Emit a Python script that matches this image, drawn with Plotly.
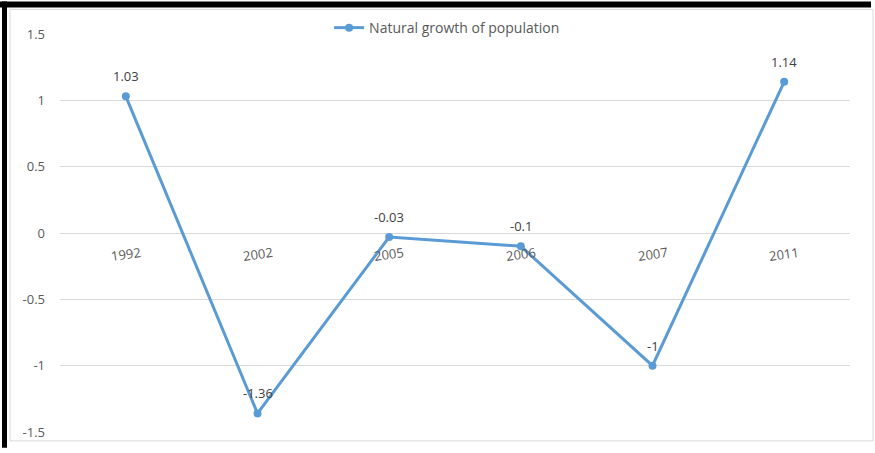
import plotly.graph_objects as go

years = ["1992", "2002", "2005", "2006", "2007", "2011"]
growth = [1.03, -1.36, -0.03, -0.1, -1.0, 1.14]
labels = ["1.03", "-1.36", "-0.03", "-0.1", "-1", "1.14"]
y_ticks = [1.5, 1, 0.5, 0, -0.5, -1, -1.5]
y_tick_text = ["1.5", "1", "0.5", "0", "-0.5", "-1", "-1.5"]

W, H = 875, 453
L, R, T, B = 60, 25, 33, 16
PW, PH = W - L - R, H - T - B

def px_x(p):
    return (p - L) / PW

def px_y(p):
    return 1 - (p - T) / PH

FONT = "Open Sans, Liberation Sans, sans-serif"

fig = go.Figure()
fig.add_trace(go.Scatter(
    x=years, y=growth, mode="lines+markers",
    name="Natural growth of population",
    line=dict(color="#5B9BD5", width=3),
    marker=dict(color="#5B9BD5", size=8),
    cliponaxis=False,
))

for i, (v, t) in enumerate(zip(growth, labels)):
    fig.add_annotation(x=i, y=v, xref="x", yref="y", text=t, showarrow=False,
                       yshift=20, font=dict(family=FONT, size=13, color="#404040"))

for i, yr in enumerate(years):
    fig.add_annotation(x=i, y=0, xref="x", yref="y", text=yr, showarrow=False,
                       yshift=-21, textangle=-8,
                       font=dict(family=FONT, size=13, color="#595959"))

shapes = [
    dict(type="rect", xref="paper", yref="paper", x0=px_x(10), x1=px_x(873), y0=px_y(446), y1=px_y(8),
         line=dict(color="#D9D9D9", width=1), fillcolor="rgba(0,0,0,0)", layer="below"),
    dict(type="rect", xref="paper", yref="paper", x0=px_x(0), x1=px_x(871), y0=px_y(6), y1=px_y(0),
         line=dict(width=0), fillcolor="black"),
    dict(type="rect", xref="paper", yref="paper", x0=px_x(2), x1=px_x(7), y0=px_y(453), y1=px_y(0),
         line=dict(width=0), fillcolor="black"),
]

fig.update_layout(
    width=W, height=H,
    margin=dict(l=L, r=R, t=T, b=B),
    paper_bgcolor="white", plot_bgcolor="white",
    showlegend=True,
    legend=dict(orientation="h", x=0.49, xanchor="center", y=1.015, yanchor="middle",
                font=dict(family=FONT, size=14, color="#595959"),
                bgcolor="rgba(0,0,0,0)"),
    xaxis=dict(type="category", showticklabels=False, showgrid=False, zeroline=False, showline=False,
               range=[-0.5, 5.5], fixedrange=True),
    yaxis=dict(range=[-1.5, 1.5], tickvals=y_ticks, ticktext=y_tick_text,
               showgrid=True, gridcolor="#D9D9D9", gridwidth=1, zeroline=False,
               showline=False, ticks="", ticklabelstandoff=14,
               tickfont=dict(family=FONT, size=13, color="#595959")),
    shapes=shapes,
)

fig.write_html(
    "out.html",
    config={"displayModeBar": False},
    post_script=(
        "document.body.style.margin='0px';"
        "document.body.style.overflow='hidden';"
        "document.documentElement.style.overflow='hidden';"
        "window.scrollTo(0,0);"
    ),
)
